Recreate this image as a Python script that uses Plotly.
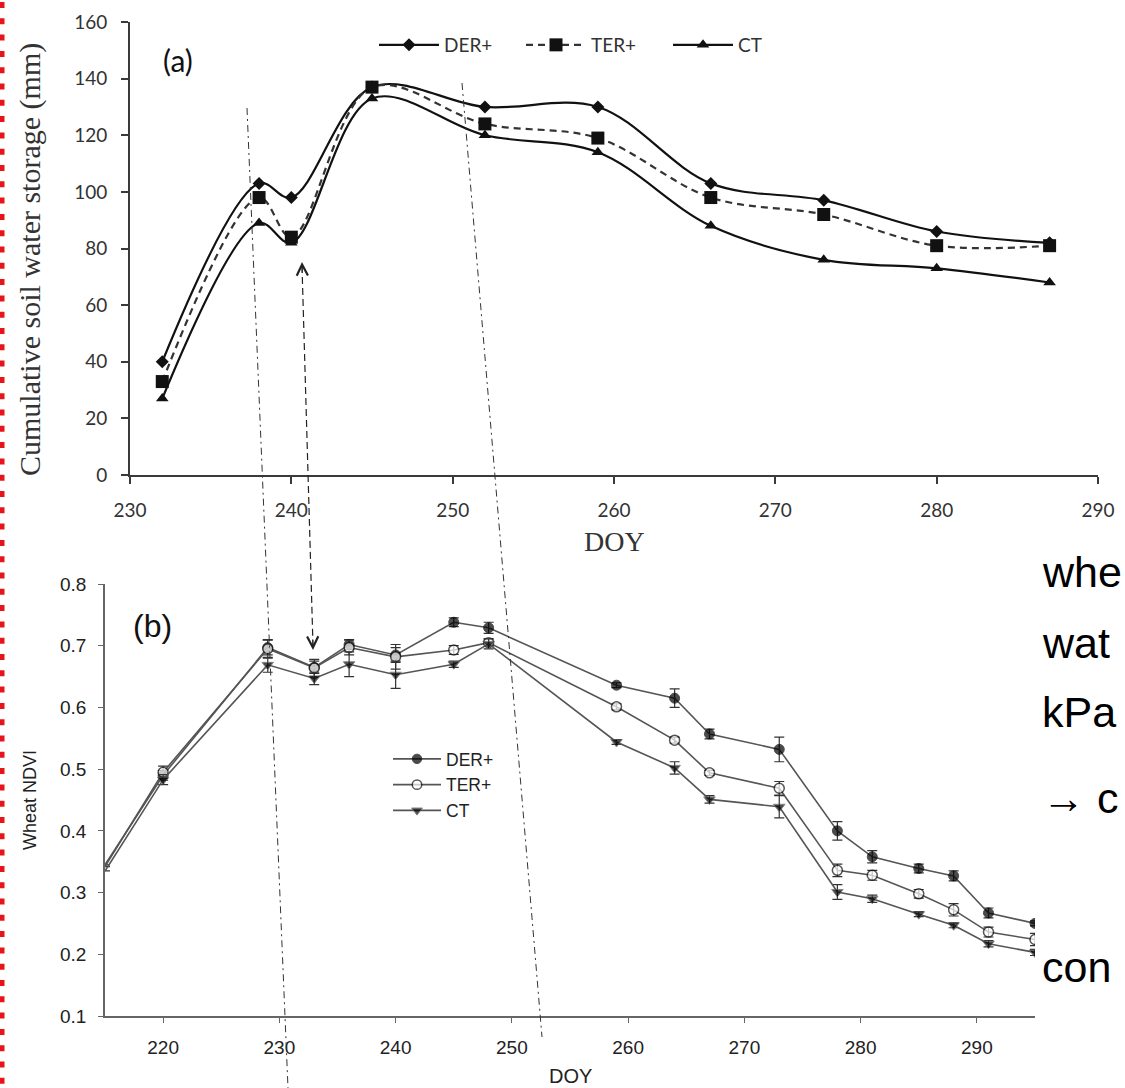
import plotly.graph_objects as go

# ---------------- data: panel (a) cumulative soil water storage ----------------
DOY_A = [232, 238, 240, 245, 252, 259, 266, 273, 280, 287]
SWS_DER = [40, 103, 98, 137, 130, 130, 103, 97, 86, 82]
SWS_TER = [33, 98, 84, 137, 124, 119, 98, 92, 81, 81]
SWS_CT = [27, 89, 82, 133, 120, 114, 88, 76, 73, 68]
X_TICKS_A = [230, 240, 250, 260, 270, 280, 290]
Y_TICKS_A = [0, 20, 40, 60, 80, 100, 120, 140, 160]

# ---------------- data: panel (b) wheat NDVI ----------------
DOY_B = [215, 220, 229, 233, 236, 240, 245, 248, 259, 264, 267, 273, 278, 281, 285, 288, 291, 295]
NDVI_DER = [0.345, 0.490, 0.697, 0.665, 0.702, 0.685, 0.738, 0.729, 0.636, 0.615, 0.557, 0.532,
            0.400, 0.358, 0.339, 0.327, 0.267, 0.250]
NDVI_TER = [0.342, 0.495, 0.695, 0.664, 0.697, 0.682, 0.693, 0.705, 0.601, 0.547, 0.494, 0.469,
            0.336, 0.328, 0.298, 0.272, 0.236, 0.224]
NDVI_CT = [0.335, 0.483, 0.669, 0.647, 0.670, 0.653, 0.670, 0.703, 0.544, 0.502, 0.451, 0.439,
           0.301, 0.290, 0.265, 0.247, 0.217, 0.203]
ERR_DER = [None, 0.008, 0.012, 0.010, 0.008, 0.012, 0.007, 0.009, 0.004, 0.015, 0.008, 0.020,
           0.015, 0.010, 0.007, 0.008, 0.008, 0.004]
ERR_TER = [None, 0.010, 0.015, 0.014, 0.012, 0.020, 0.007, 0.006, 0.005, 0.005, 0.004, 0.011,
           0.010, 0.008, 0.007, 0.010, 0.008, 0.010]
ERR_CT = [None, 0.008, 0.012, 0.010, 0.020, 0.022, 0.005, 0.008, 0.004, 0.010, 0.006, 0.018,
          0.012, 0.006, 0.004, 0.004, 0.005, 0.005]
X_TICKS_B = [220, 230, 240, 250, 260, 270, 280, 290]
Y_TICKS_B = [0.1, 0.2, 0.3, 0.4, 0.5, 0.6, 0.7, 0.8]

SERIES = ["DER+", "TER+", "CT"]
SIDE_TEXT = ["whe", "wat", "kPa", "\u2192 c", "con"]

W, H = 1125, 1088


def px(x):
    return x / W


def py(y):
    return 1 - y / H


fig = go.Figure()

# panel (a)
dark = "#111111"
fig.add_trace(go.Scatter(x=DOY_A, y=SWS_DER, name=SERIES[0], mode="lines+markers",
                         line=dict(color=dark, width=2.2, shape="spline"),
                         marker=dict(symbol="diamond", size=10, color=dark),
                         xaxis="x", yaxis="y", legend="legend"))
fig.add_trace(go.Scatter(x=DOY_A, y=SWS_TER, name=SERIES[1], mode="lines+markers",
                         line=dict(color="#333333", width=2.2, shape="spline", dash="7px,5px"),
                         marker=dict(symbol="square", size=13, color=dark),
                         xaxis="x", yaxis="y", legend="legend"))
fig.add_trace(go.Scatter(x=DOY_A, y=SWS_CT, name=SERIES[2], mode="lines+markers",
                         line=dict(color=dark, width=2.2, shape="spline"),
                         marker=dict(symbol="triangle-up", size=11, color=dark),
                         xaxis="x", yaxis="y", legend="legend"))

# panel (b)
msize = [0] + [10] * (len(DOY_B) - 1)
errstyle = dict(type="data", thickness=1.2, width=5, color="#333333")
fig.add_trace(go.Scatter(x=DOY_B, y=NDVI_DER, name=SERIES[0], mode="lines+markers",
                         line=dict(color="#555555", width=1.6),
                         marker=dict(symbol="circle", size=msize, color="#000000",
                                     line=dict(color="#000000", width=1)),
                         error_y=dict(array=ERR_DER, **errstyle),
                         xaxis="x2", yaxis="y2", legend="legend2"))
fig.add_trace(go.Scatter(x=DOY_B, y=NDVI_TER, name=SERIES[1], mode="lines+markers",
                         line=dict(color="#555555", width=1.6),
                         marker=dict(symbol="circle", size=msize, color="white",
                                     line=dict(color="#111111", width=1.5)),
                         error_y=dict(array=ERR_TER, **errstyle),
                         xaxis="x2", yaxis="y2", legend="legend2"))
fig.add_trace(go.Scatter(x=DOY_B, y=NDVI_CT, name=SERIES[2], mode="lines+markers",
                         line=dict(color="#555555", width=1.6),
                         marker=dict(symbol="triangle-down", size=msize, color="#000000"),
                         error_y=dict(array=ERR_CT, **errstyle),
                         xaxis="x2", yaxis="y2", legend="legend2"))

axa = dict(showline=True, linecolor="#3a3a3a", linewidth=2, ticks="outside", ticklen=7,
           tickwidth=2, tickcolor="#3a3a3a", showgrid=False, zeroline=False, automargin=False,
           tickfont=dict(family="Lato, Liberation Sans, sans-serif", size=19, color="#333333"))
axb = dict(showline=True, linecolor="#666666", linewidth=1.5, ticks="outside", ticklen=5,
           tickwidth=1.2, tickcolor="#666666", showgrid=False, zeroline=False, automargin=False,
           tickfont=dict(family="Liberation Sans, Arial, sans-serif", size=19, color="#222222"))

fig.update_layout(
    width=W, height=H, margin=dict(l=0, r=0, t=0, b=0, autoexpand=False),
    paper_bgcolor="white", plot_bgcolor="white", showlegend=True,
    xaxis=dict(domain=[px(130), px(1098)], range=[230, 290], tickvals=X_TICKS_A,
               anchor="y", ticklabelstandoff=10, **axa),
    yaxis=dict(domain=[py(475), py(22)], range=[0, 160], tickvals=Y_TICKS_A,
               anchor="x", ticklabelstandoff=10, **axa),
    xaxis2=dict(domain=[px(105), px(1035)], range=[215, 295], tickvals=X_TICKS_B,
                anchor="y2", ticklabelstandoff=8, **axb),
    yaxis2=dict(domain=[py(1016), py(584)], range=[0.1, 0.8], tickvals=Y_TICKS_B,
                tickformat=".1f", anchor="x2", ticklabelstandoff=8, **axb),
    legend=dict(orientation="h", x=px(374), y=py(45), xanchor="left", yanchor="middle",
                bgcolor="rgba(0,0,0,0)", itemwidth=60, entrywidth=72,
                font=dict(family="Lato, Liberation Sans, sans-serif", size=19, color="#333333")),
    legend2=dict(orientation="v", x=px(388), y=py(785), xanchor="left", yanchor="middle",
                 bgcolor="rgba(0,0,0,0)", itemwidth=48, tracegroupgap=0,
                 font=dict(family="Liberation Sans, Arial, sans-serif", size=17.5, color="#222222")),
)

serif = "Liberation Serif, Times New Roman, serif"
sans = "Liberation Sans, Arial, sans-serif"
ann = [
    dict(text="Cumulative soil water storage (mm)", x=px(30), y=py(260), textangle=-90,
         font=dict(family=serif, size=30, color="#333333")),
    dict(text="DOY", x=px(614), y=py(541), font=dict(family=serif, size=28, color="#333333")),
    dict(text="(a)", x=px(178), y=py(60), font=dict(family="Lato, sans-serif", size=30, color="#111111")),
    dict(text="(b)", x=px(152), y=py(626), font=dict(family=sans, size=32, color="#111111")),
    dict(text="Wheat NDVI", x=px(30), y=py(800), textangle=-90,
         font=dict(family=sans, size=18, color="#222222")),
    dict(text="DOY", x=px(570), y=py(1076), font=dict(family=sans, size=20, color="#222222")),
]
for a in ann:
    a.update(xref="paper", yref="paper", showarrow=False, xanchor="center", yanchor="middle")

side_y = [572, 643, 712, 798, 967]
for t, yy in zip(SIDE_TEXT, side_y):
    ann.append(dict(text=t, x=px(1040), y=py(yy), xref="paper", yref="paper", showarrow=False,
                    xanchor="left", yanchor="middle",
                    font=dict(family=sans, size=43, color="#000000")))

# arrowheads of the dashed connector
ann.append(dict(text="", x=px(302), y=py(262), xref="paper", yref="paper", showarrow=True,
                ax=0.3, ay=12, arrowhead=5, arrowsize=2.2, arrowwidth=1, arrowcolor="#222222"))
ann.append(dict(text="", x=px(313), y=py(650), xref="paper", yref="paper", showarrow=True,
                ax=-0.3, ay=-12, arrowhead=5, arrowsize=2.2, arrowwidth=1, arrowcolor="#222222"))
fig.update_layout(annotations=ann)

shapes = [
    # dash-dot connectors between panels
    dict(type="line", x0=px(247), y0=py(108), x1=px(288), y1=py(1088),
         line=dict(color="#333333", width=1, dash="7px,4px,2px,4px")),
    dict(type="line", x0=px(462), y0=py(83), x1=px(542), y1=py(1037),
         line=dict(color="#333333", width=1, dash="7px,4px,2px,4px")),
    # dashed arrow connector
    dict(type="line", x0=px(302), y0=py(266), x1=px(313), y1=py(646),
         line=dict(color="#222222", width=1.2, dash="7px,4px")),
    # red dotted border at the far left
    dict(type="line", x0=px(1.5), y0=py(2), x1=px(1.5), y1=py(1088),
         line=dict(color="#e8141b", width=6, dash="6px,10.3px")),
]
for s in shapes:
    s.update(xref="paper", yref="paper", layer="above")
fig.update_layout(shapes=shapes)

fig.write_html("out.html", config={"displayModeBar": False},
               post_script="document.body.style.margin='0';document.body.style.overflow='hidden';")
